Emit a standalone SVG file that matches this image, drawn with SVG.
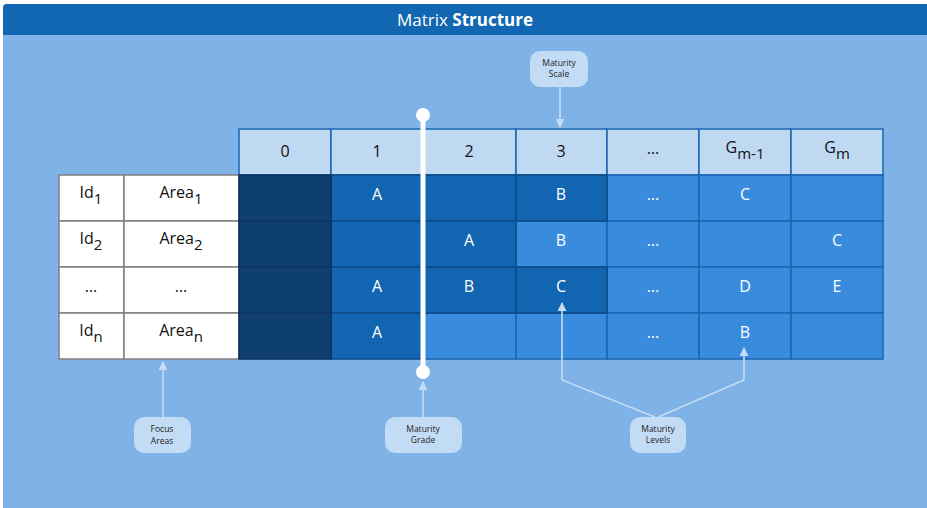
<svg xmlns="http://www.w3.org/2000/svg" width="927" height="508" viewBox="0 0 927 508">
<defs>
<style>
text{font-family:"Open Sans","Liberation Sans",sans-serif;}
.hd{fill:#c0d9f3;stroke:#1a66b0;stroke-width:1.5;}
.dk{fill:#0f3f6f;stroke:#0b3560;stroke-width:1.5;}
.md{fill:#1265b0;stroke:#0b4a85;stroke-width:1.5;}
.lt{fill:#388bdd;stroke:#1a66b0;stroke-width:1.5;}
.wh{fill:#ffffff;stroke:#7f7f7f;stroke-width:1.5;}
.ht{font-size:16px;fill:#111;text-anchor:middle;}
.ct{font-size:16px;fill:#ffffff;text-anchor:middle;}
.lt2{font-size:16px;fill:#111;text-anchor:middle;}
.cb{fill:#c2dcf5;}
.cbt{font-size:8.5px;fill:#222;text-anchor:middle;}
.con{stroke:#c4dcf5;stroke-width:1.6;fill:none;}
</style>
<marker id="ah" viewBox="0 0 10 10" refX="9" refY="5" markerWidth="9" markerHeight="9" markerUnits="userSpaceOnUse" orient="auto">
<path d="M0,0 L10,5 L0,10 Z" fill="#c4dcf5"/>
</marker>
</defs>
<path d="M3,8 Q3,4 7,4 L927,4 L927,508 L3,508 Z" fill="#7fb3e8"/>
<path d="M3,8 Q3,4 7,4 L927,4 L927,35 L3,35 Z" fill="#1167b1"/>
<text x="465" y="26" font-size="17" fill="#ffffff" text-anchor="middle">Matrix <tspan font-weight="bold">Structure</tspan></text>

<g id="header">
<rect class="hd" x="239" y="129" width="92" height="46"/>
<rect class="hd" x="331" y="129" width="92" height="46"/>
<rect class="hd" x="423" y="129" width="93" height="46"/>
<rect class="hd" x="516" y="129" width="91" height="46"/>
<rect class="hd" x="607" y="129" width="92" height="46"/>
<rect class="hd" x="699" y="129" width="92" height="46"/>
<rect class="hd" x="791" y="129" width="92" height="46"/>
<text class="ht" x="285" y="157">0</text>
<text class="ht" x="377" y="157">1</text>
<text class="ht" x="469" y="157">2</text>
<text class="ht" x="561" y="157">3</text>
<text class="ht" x="653" y="154">…</text>
<text class="ht" x="745" y="153">G<tspan font-size="15" dy="6">m-1</tspan></text>
<text class="ht" x="837" y="153">G<tspan font-size="15" dy="6">m</tspan></text>
</g>

<g id="focus-areas">
<rect class="wh" x="59" y="175" width="65" height="46"/>
<rect class="wh" x="124" y="175" width="115" height="46"/>
<rect class="wh" x="59" y="221" width="65" height="46"/>
<rect class="wh" x="124" y="221" width="115" height="46"/>
<rect class="wh" x="59" y="267" width="65" height="46"/>
<rect class="wh" x="124" y="267" width="115" height="46"/>
<rect class="wh" x="59" y="313" width="65" height="46"/>
<rect class="wh" x="124" y="313" width="115" height="46"/>
<text class="lt2" x="91" y="198">Id<tspan font-size="15" dy="6">1</tspan></text>
<text class="lt2" x="181" y="198">Area<tspan font-size="15" dy="6">1</tspan></text>
<text class="lt2" x="91" y="244">Id<tspan font-size="15" dy="6">2</tspan></text>
<text class="lt2" x="181" y="244">Area<tspan font-size="15" dy="6">2</tspan></text>
<text class="lt2" x="91" y="292">…</text>
<text class="lt2" x="181" y="292">…</text>
<text class="lt2" x="91" y="336">Id<tspan font-size="15" dy="6">n</tspan></text>
<text class="lt2" x="181" y="336">Area<tspan font-size="15" dy="6">n</tspan></text>
</g>

<g id="matrix">
<rect class="lt" x="607" y="175" width="92" height="46"/>
<rect class="lt" x="699" y="175" width="92" height="46"/>
<rect class="lt" x="791" y="175" width="92" height="46"/>
<rect class="lt" x="516" y="221" width="91" height="46"/>
<rect class="lt" x="607" y="221" width="92" height="46"/>
<rect class="lt" x="699" y="221" width="92" height="46"/>
<rect class="lt" x="791" y="221" width="92" height="46"/>
<rect class="lt" x="607" y="267" width="92" height="46"/>
<rect class="lt" x="699" y="267" width="92" height="46"/>
<rect class="lt" x="791" y="267" width="92" height="46"/>
<rect class="lt" x="423" y="313" width="93" height="46"/>
<rect class="lt" x="516" y="313" width="91" height="46"/>
<rect class="lt" x="607" y="313" width="92" height="46"/>
<rect class="lt" x="699" y="313" width="92" height="46"/>
<rect class="lt" x="791" y="313" width="92" height="46"/>
<rect class="md" x="331" y="175" width="92" height="46"/>
<rect class="md" x="423" y="175" width="93" height="46"/>
<rect class="md" x="516" y="175" width="91" height="46"/>
<rect class="md" x="331" y="221" width="92" height="46"/>
<rect class="md" x="423" y="221" width="93" height="46"/>
<rect class="md" x="331" y="267" width="92" height="46"/>
<rect class="md" x="423" y="267" width="93" height="46"/>
<rect class="md" x="516" y="267" width="91" height="46"/>
<rect class="md" x="331" y="313" width="92" height="46"/>
<rect class="dk" x="239" y="175" width="92" height="46"/>
<rect class="dk" x="239" y="221" width="92" height="46"/>
<rect class="dk" x="239" y="267" width="92" height="46"/>
<rect class="dk" x="239" y="313" width="92" height="46"/>
<text class="ct" x="377" y="200">A</text>
<text class="ct" x="561" y="200">B</text>
<text class="ct" x="653" y="200">…</text>
<text class="ct" x="745" y="200">C</text>
<text class="ct" x="469" y="246">A</text>
<text class="ct" x="561" y="246">B</text>
<text class="ct" x="653" y="246">…</text>
<text class="ct" x="837" y="246">C</text>
<text class="ct" x="377" y="292">A</text>
<text class="ct" x="469" y="292">B</text>
<text class="ct" x="561" y="292">C</text>
<text class="ct" x="653" y="292">…</text>
<text class="ct" x="745" y="292">D</text>
<text class="ct" x="837" y="292">E</text>
<text class="ct" x="377" y="338">A</text>
<text class="ct" x="653" y="338">…</text>
<text class="ct" x="745" y="338">B</text>
</g>

<g id="grade-bar">
<rect x="420.5" y="115" width="5" height="257" fill="#ffffff"/>
<circle cx="423" cy="115" r="7" fill="#ffffff"/>
<circle cx="423" cy="372" r="7" fill="#ffffff"/>
</g>

<g id="connectors">
<line class="con" x1="560" y1="86" x2="560" y2="127" marker-end="url(#ah)"/>
<line class="con" x1="163" y1="417" x2="163" y2="362" marker-end="url(#ah)"/>
<line class="con" x1="423" y1="417" x2="423" y2="382" marker-end="url(#ah)"/>
<polyline class="con" points="655,417 562,380 562,303" marker-end="url(#ah)"/>
<polyline class="con" points="658,417 744,380 744,348" marker-end="url(#ah)"/>
</g>

<g id="maturity-scale">
<rect class="cb" x="530" y="51" width="58" height="36" rx="10"/>
<text class="cbt" x="559" y="66">Maturity</text>
<text class="cbt" x="559" y="77">Scale</text>
</g>
<g id="focus-areas-label">
<rect class="cb" x="134" y="417" width="57" height="36" rx="10"/>
<text class="cbt" x="162" y="432">Focus</text>
<text class="cbt" x="162" y="444">Areas</text>
</g>
<g id="maturity-grade">
<rect class="cb" x="385" y="417" width="77" height="36" rx="10"/>
<text class="cbt" x="423" y="432">Maturity</text>
<text class="cbt" x="423" y="443">Grade</text>
</g>
<g id="maturity-levels">
<rect class="cb" x="630" y="417" width="56" height="36" rx="10"/>
<text class="cbt" x="658" y="432">Maturity</text>
<text class="cbt" x="658" y="443">Levels</text>
</g>
</svg>
